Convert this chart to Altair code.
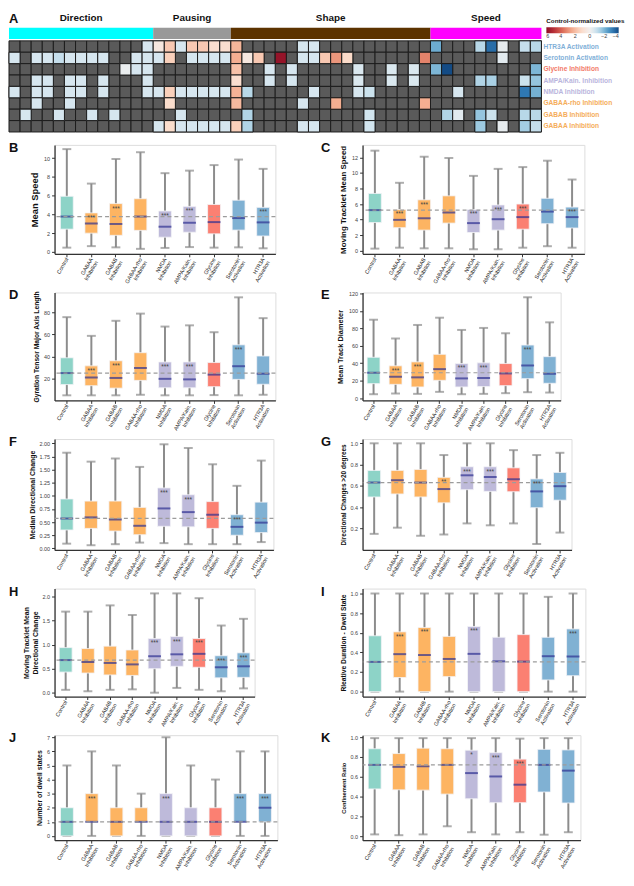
import altair as alt
import pandas as pd

FONT = "Liberation Sans"

# ---------------- Panel A : heatmap ----------------
GROUPS = ["Direction", "Pausing", "Shape", "Speed"]
GROUP_START = [0, 13, 20, 38]
GROUP_END = [13, 20, 38, 48]
GROUP_COLORS = ["#00ffff", "#999999", "#5c3300", "#ff00ff"]

ROW_LABELS = ["HTR3A Activation", "Serotonin Activation", "Glycine Inhibition",
              "AMPA/Kain. Inhibition", "NMDA Inhibition", "GABAA-rho Inhibition",
              "GABAB Inhibition", "GABAA Inhibition"]
ROW_COLORS = ["#7fb0d8", "#7fb0d8", "#f27a6a", "#b9b5dd", "#b9b5dd",
              "#f5ad5a", "#f5ad5a", "#f5ad5a"]

N = None
R_HTR3A = [N, N, N, N, N, N, N, N, N, N, N, N, -0.7, 0.5, 1.7, -0.7, 1.7, 1.7, 1.0, 1.0,
           2.2, N, N, N, N, N, -0.7, -0.7, N, N, N, N, N, N, N, N, N, N, -2.2, N,
           N, N, -1.2, -3.4, -0.3, N, -1.0, -1.2]
R_SERO = [-0.7, N, -0.7, -0.7, -1.0, -0.7, -0.7, -0.7, -0.7, N, N, -0.7, -0.7, -0.7, 1.5, N,
          -0.7, -0.7, -0.7, -0.7, 2.4, 0.5, 1.7, N, 5.8, N, -0.7, -0.7, 1.7, 2.9, 1.2, N,
          N, N, N, N, N, 3.3, N, N, N, N, N, N, -0.4, N, N, N]
R_GLY = [N, N, N, N, N, N, N, N, N, N, -0.2, -0.7, -0.7, N, N, N, N, N, N, N,
         1.9, N, N, -0.7, N, -0.7, N, N, N, N, N, -0.6, N, N, -0.6, N, -0.6, N, -2.0, -4.0,
         N, N, N, N, N, N, N, -2.0]
R_AMPA = [N, N, -0.7, -0.7, N, -0.7, -0.7, N, -0.7, N, N, N, -0.7, N, N, N, N, N, N, N,
          1.0, N, N, -0.7, N, -0.7, N, N, N, N, N, -0.6, N, N, -0.6, N, -0.6, N, N, N,
          N, N, -1.3, -1.4, N, N, -0.9, -1.7]
R_NMDA = [-0.7, N, -0.7, -0.7, N, -0.7, -0.7, N, -0.7, N, N, N, -0.7, -0.7, 1.5, -0.7,
          -0.7, -0.7, -0.7, -0.7, 2.3, -1.2, N, N, N, N, N, -0.7, N, N, N, -0.7, -0.9, N,
          N, N, N, N, N, N, -0.7, N, N, N, N, N, -3.2, -2.1]
R_RHO = [N, N, -0.7, N, N, -0.7, N, N, N, N, N, N, N, N, 1.1, N, N, N, N, N,
         2.1, N, N, N, N, N, -0.7, N, N, 2.4, N, N, N, N, N, N, N, 2.4, N, N,
         N, N, N, N, N, N, N, N]
R_GABAB = [N, -0.7, N, N, -0.7, N, N, -0.7, N, -0.7, N, N, N, N, N, -0.7, N, N, N, N,
           N, -1.3, N, N, N, N, N, N, N, N, N, N, -0.8, N, N, N, N, N, N, -1.3,
           -0.4, N, -1.7, -0.9, N, N, -1.2, -1.2]
R_GABAA = [N, N, N, N, N, N, N, N, N, N, N, N, N, -0.7, 1.1, -0.7, -0.7, -0.7, -0.7, -0.7,
           1.5, -1.3, N, N, N, N, -0.7, -0.7, N, N, N, N, -0.8, N, N, N, N, N, N, N,
           N, N, -1.6, N, -0.3, N, -1.5, -1.0]
HEAT_ROWS = [R_HTR3A, R_SERO, R_GLY, R_AMPA, R_NMDA, R_RHO, R_GABAB, R_GABAA]

NCOL = 48
CELL_W = 11.2
CELL_H = 11.5
Y_TOP = 10.43
X_OFF = 46 / CELL_W   # heatmap starts at the same x as the panel letters below

cells = []
for r, vals in enumerate(HEAT_ROWS):
    for c, v in enumerate(vals):
        cells.append({"c": c, "c2": c + 1, "r": 7 - r, "r2": 8 - r,
                      "v": v, "nv": (-v if v is not None else None)})
cells_df = pd.DataFrame(cells)

xs = alt.Scale(domain=[X_OFF, NCOL], nice=False, zero=False)
ys = alt.Scale(domain=[0, Y_TOP], nice=False, zero=False)

hm_bg = alt.Chart(cells_df).mark_rect(fill="#5a5a5a", stroke="#1c1c1c", strokeWidth=1).encode(
    x=alt.X("c:Q", scale=xs, axis=None), x2="c2:Q",
    y=alt.Y("r:Q", scale=ys, axis=None), y2="r2:Q")

hm_fg = alt.Chart(cells_df).transform_filter("datum.v != null").mark_rect(
    stroke="#1c1c1c", strokeWidth=1).encode(
    x=alt.X("c:Q", scale=xs, axis=None), x2="c2:Q",
    y=alt.Y("r:Q", scale=ys, axis=None), y2="r2:Q",
    color=alt.Color("nv:Q",
                    scale=alt.Scale(domain=[-6, 4], domainMid=0, scheme="redblue"),
                    legend=alt.Legend(
                        title="Control-normalized values", orient="none",
                        legendX=(NCOL - X_OFF) * CELL_W + 5, legendY=5,
                        direction="horizontal",
                        gradientLength=73, gradientThickness=6,
                        titleFontSize=6.3, titleFontWeight="bold", titleColor="#111",
                        titlePadding=3, labelFontSize=5.5, labelColor="#444",
                        labelOffset=1, values=[-6, -4, -2, 0, 2, 4],
                        labelOverlap=False,
                        labelExpr="datum.value == 0 ? '0' : (datum.value < 0 ? format(-datum.value, 'd') : '\u2212' + format(datum.value, 'd'))")))

grp_layers = []
for g, s, e, col in zip(GROUPS, GROUP_START, GROUP_END, GROUP_COLORS):
    gdf = pd.DataFrame({"g": [g], "s": [s], "e": [e], "m": [(s + e) / 2]})
    grp_layers.append(alt.Chart(gdf).mark_rect(color=col).encode(
        x=alt.X("s:Q", scale=xs, axis=None), x2="e:Q",
        y=alt.Y("b1:Q", scale=ys, axis=None), y2="b2:Q").transform_calculate(
        b1="8.17", b2="9.15"))
    grp_layers.append(alt.Chart(gdf).mark_text(
        fontSize=10, fontWeight="bold", color="#111", baseline="middle").encode(
        x=alt.X("m:Q", scale=xs, axis=None),
        y=alt.Y("ty:Q", scale=ys, axis=None), text="g:N").transform_calculate(ty="10.0"))

lab_layers = []
for r, (lab, colr) in enumerate(zip(ROW_LABELS, ROW_COLORS)):
    ldf = pd.DataFrame({"t": [lab], "yc": [7.5 - r], "xc": [NCOL]})
    lab_layers.append(alt.Chart(ldf).mark_text(
        align="left", baseline="middle", dx=2, fontSize=6.7, fontWeight="bold",
        color=colr).encode(
        x=alt.X("xc:Q", scale=xs, axis=None), y=alt.Y("yc:Q", scale=ys, axis=None),
        text="t:N"))

letter_a = alt.Chart(pd.DataFrame({"t": ["A"], "xa": [0], "ya": [Y_TOP]})).mark_text(
    align="left", baseline="top", fontSize=13, fontWeight="bold", color="#111").encode(
    x=alt.X("xa:Q", scale=xs, axis=None), y=alt.Y("ya:Q", scale=ys, axis=None), text="t:N")

heat = alt.layer(hm_bg, hm_fg, *grp_layers, *lab_layers, letter_a).properties(
    width=(NCOL - X_OFF) * CELL_W, height=Y_TOP * CELL_H,
    view=alt.ViewBackground(stroke="transparent", strokeWidth=0))

# ---------------- Box panels ----------------
CATS = ["Control", "GABAA|Inhibition", "GABAB|Inhibition", "GABAA-rho|Inhibition",
        "NMDA|Inhibition", "AMPA/Kain.|Inhibition", "Glycine|Inhibition",
        "Serotonin|Activation", "HTR3A|Activation"]
BOX_COLORS = ["#8dd3c7", "#fdb462", "#fdb462", "#fdb462", "#bebada", "#bebada",
              "#fb8072", "#80b1d3", "#80b1d3"]

B_lo = [0.46, 0.62, 0.49, 0.33, 0.43, 0.52, 0.46, 0.49, 0.39]
B_q1 = [2.43, 2.00, 1.77, 2.30, 1.57, 2.10, 1.93, 2.33, 1.70]
B_med = [3.77, 3.02, 2.98, 3.77, 2.69, 3.11, 3.18, 3.61, 3.15]
B_q3 = [5.93, 4.16, 5.15, 5.67, 4.36, 4.85, 5.05, 5.51, 4.75]
B_hi = [10.95, 7.28, 9.90, 10.62, 8.39, 8.66, 9.25, 9.84, 8.85]
B_sig = ["", "***", "***", "", "***", "***", "", "", "***"]

C_lo = [0.27, 0.39, 0.31, 0.31, 0.19, 0.19, 0.39, 0.58, 0.39]
C_q1 = [3.62, 2.96, 2.65, 3.55, 2.34, 2.65, 2.77, 3.47, 2.92]
C_med = [5.22, 3.97, 4.17, 4.91, 3.55, 4.05, 4.32, 5.03, 4.32]
C_q3 = [7.36, 5.30, 6.54, 7.05, 5.30, 5.88, 6.00, 6.74, 5.61]
C_hi = [12.86, 8.73, 12.08, 11.92, 9.62, 10.52, 10.75, 11.57, 9.15]
C_sig = ["", "***", "***", "", "***", "***", "***", "", "***"]

D_lo = [5.1, 5.1, 5.1, 5.6, 5.1, 5.1, 5.3, 5.1, 5.6]
D_q1 = [14.8, 13.8, 11.6, 18.6, 11.9, 11.9, 12.9, 19.5, 15.1]
D_med = [25.2, 21.1, 20.8, 29.8, 20.0, 19.5, 23.8, 31.4, 24.6]
D_q3 = [39.0, 31.7, 36.3, 43.6, 35.2, 35.2, 34.7, 50.7, 40.6]
D_hi = [75.7, 58.8, 72.4, 78.9, 67.2, 68.3, 62.1, 93.6, 74.8]
D_sig = ["", "***", "***", "", "***", "***", "", "***", ""]

E_lo = [4.5, 5.3, 4.9, 7.2, 4.5, 4.9, 5.7, 6.8, 6.4]
E_q1 = [16.6, 15.8, 12.8, 20.4, 12.8, 13.2, 14.3, 22.3, 17.0]
E_med = [29.1, 24.5, 23.8, 33.2, 22.6, 23.0, 28.3, 37.4, 27.9]
E_q3 = [46.8, 37.0, 41.5, 50.2, 39.6, 40.4, 39.6, 60.8, 47.5]
E_hi = [89.8, 68.3, 83.8, 92.1, 78.1, 80.4, 74.3, 115.5, 86.8]
E_sig = ["", "***", "***", "", "***", "***", "", "***", ""]

F_lo = [0.09, 0.06, 0.08, 0.11, 0.10, 0.08, 0.08, 0.08, 0.12]
F_q1 = [0.35, 0.38, 0.33, 0.26, 0.42, 0.41, 0.38, 0.25, 0.30]
F_med = [0.57, 0.59, 0.55, 0.43, 0.76, 0.69, 0.64, 0.41, 0.49]
F_q3 = [0.94, 0.90, 0.90, 0.78, 1.15, 1.02, 0.89, 0.64, 0.88]
F_hi = [1.82, 1.65, 1.71, 1.55, 1.98, 1.91, 1.60, 1.19, 1.67]
F_sig = ["", "", "", "", "***", "***", "", "***", ""]

G_lo = [0.151, 0.209, 0.133, 0.145, 0.249, 0.231, 0.249, 0.056, 0.163]
G_q1 = [0.497, 0.525, 0.497, 0.442, 0.565, 0.549, 0.546, 0.396, 0.467]
G_med = [0.632, 0.654, 0.632, 0.571, 0.700, 0.684, 0.663, 0.549, 0.598]
G_q3 = [0.746, 0.746, 0.755, 0.681, 0.780, 0.780, 0.770, 0.666, 0.727]
G_hi = [1.0, 1.0, 1.0, 0.89, 1.0, 1.0, 0.936, 0.89, 0.911]
G_sig = ["", "", "", "**", "***", "***", "", "***", ""]

H_lo = [0.06, 0.03, 0.06, 0.07, 0.00, 0.10, 0.06, 0.03, 0.09]
H_q1 = [0.43, 0.41, 0.37, 0.36, 0.50, 0.55, 0.53, 0.31, 0.32]
H_med = [0.68, 0.64, 0.62, 0.59, 0.76, 0.80, 0.81, 0.53, 0.55]
H_q3 = [0.94, 0.92, 0.97, 0.89, 1.13, 1.17, 1.13, 0.77, 0.83]
H_hi = [1.69, 1.69, 1.82, 1.62, 2.07, 2.07, 1.97, 1.40, 1.54]
H_sig = ["", "", "", "", "***", "***", "***", "***", "***"]

I_lo = [0.0, 0.0, 0.0, 0.0, 0.0, 0.0, 0.0, 0.0, 0.0]
I_q1 = [0.0, 0.144, 0.0, 0.153, 0.0, 0.0, 0.0, 0.119, 0.162]
I_med = [0.303, 0.382, 0.373, 0.333, 0.385, 0.309, 0.306, 0.361, 0.358]
I_q3 = [0.569, 0.609, 0.654, 0.563, 0.664, 0.554, 0.581, 0.554, 0.639]
I_hi = [1.0, 1.0, 1.0, 1.0, 1.0, 1.0, 1.0, 0.966, 1.0]
I_sig = ["", "***", "***", "", "***", "", "", "", "***"]

J_lo = [0, 0, 0, 0, 0, 0, 0, 0, 0]
J_q1 = [0, 1, 0, 1, 0, 0, 0, 1, 1]
J_med = [1, 1, 1, 1, 1, 1, 1, 1, 2]
J_q3 = [2, 3, 2, 2, 3, 2, 2, 3, 3]
J_hi = [5, 6, 5, 3, 7, 5, 4, 6, 6]
J_sig = ["", "***", "", "", "***", "", "", "***", "***"]

K_lo = [0.018, 0.010, 0.018, 0.100, 0.040, 0.018, 0.040, 0.015, 0.040]
K_q1 = [0.477, 0.468, 0.465, 0.425, 0.378, 0.338, 0.338, 0.446, 0.335]
K_med = [0.720, 0.700, 0.705, 0.720, 0.637, 0.603, 0.520, 0.720, 0.662]
K_q3 = [0.883, 0.834, 0.889, 0.883, 0.868, 0.843, 0.778, 0.877, 0.871]
K_hi = [0.99, 0.99, 0.99, 0.99, 0.99, 0.99, 0.985, 0.99, 0.99]
K_sig = ["", "", "", "", "*", "***", "***", "", ""]

GRAY = "#8c8c8c"
MED_COLOR = "#2e3192"


def box_panel(letter, title, tsize, lo, q1, med, q3, hi, sig, domain, ticks, fmt,
              w, h, letter_x):
    df = pd.DataFrame({"cat": CATS, "lo": lo, "q1": q1, "med": med, "q3": q3,
                       "hi": hi, "sig": sig, "ctrl": [med[0]] * len(CATS)})
    yscale = alt.Scale(domain=domain, nice=False, zero=False)
    yaxis = alt.Axis(title=title, values=ticks, format=fmt, titleFontSize=tsize,
                     titleFontWeight="bold", titleColor="#111", titlePadding=4,
                     labelFontSize=5.5, labelColor="#444", tickSize=3, labelPadding=2,
                     domainColor="#333", tickColor="#333", domainWidth=1.3, grid=False)

    def Y(f):
        return alt.Y(f"{f}:Q", scale=yscale, axis=yaxis)

    X = alt.X("cat:N", sort=CATS, scale=alt.Scale(paddingInner=0, paddingOuter=0),
              axis=alt.Axis(title=None, labelAngle=-60, labelAlign="right",
                            labelBaseline="middle", labelFontSize=5.5, labelColor="#222",
                            labelExpr="split(datum.label, '|')", labelLineHeight=6,
                            tickSize=3, labelPadding=1, domainColor="#333",
                            tickColor="#333", domainWidth=1.3, grid=False))
    base = alt.Chart(df).encode(x=X)
    whisk = base.mark_rule(color=GRAY, strokeWidth=2).encode(y=Y("lo"), y2="hi:Q")
    cap_lo = base.mark_tick(color=GRAY, size=9, thickness=2).encode(y=Y("lo"))
    cap_hi = base.mark_tick(color=GRAY, size=9, thickness=2).encode(y=Y("hi"))
    box = base.mark_bar(size=13, stroke="#f4f4f8", strokeWidth=0.8).encode(
        y=Y("q1"), y2="q3:Q",
        color=alt.Color("cat:N", scale=alt.Scale(domain=CATS, range=BOX_COLORS),
                        legend=None))
    medl = base.mark_tick(color=MED_COLOR, size=13, thickness=2).encode(y=Y("med"))
    refl = alt.Chart(df).transform_filter("datum.cat == 'Control'").mark_rule(
        color="#9c9c9c", strokeDash=[4, 3], strokeWidth=1.2).encode(y=Y("ctrl"))
    stars = base.mark_text(baseline="top", dy=2, fontSize=6.5, color="#444").encode(
        y=Y("q3"), text="sig:N")
    let = alt.Chart(pd.DataFrame({"t": [letter]})).mark_text(
        align="left", baseline="top", fontSize=13, fontWeight="bold", color="#111").encode(
        x=alt.value(letter_x), y=alt.value(-3), text="t:N")
    return alt.layer(whisk, cap_lo, cap_hi, box, medl, refl, stars, let).properties(
        width=w, height=h)


LX = -46
RX = -42
pB = box_panel("B", "Mean Speed", 9.5, B_lo, B_q1, B_med, B_q3, B_hi, B_sig,
               [-0.2, 11.4], [0, 2, 4, 6, 8, 10], "d", 223, 110, LX)
pC = box_panel("C", "Moving Tracklet Mean Speed", 8, C_lo, C_q1, C_med, C_q3, C_hi, C_sig,
               [-0.4, 13.6], [0, 2, 4, 6, 8, 10, 12], "d", 224, 110, RX)
pD = box_panel("D", "Gyration Tensor Major Axis Length", 6.8, D_lo, D_q1, D_med, D_q3, D_hi,
               D_sig, [0.5, 98], [20, 40, 60, 80], "d", 223, 109, LX)
pE = box_panel("E", "Mean Track Diameter", 7.5, E_lo, E_q1, E_med, E_q3, E_hi, E_sig,
               [-2.6, 121], [0, 20, 40, 60, 80, 100, 120], "d", 200, 109, RX)
pF = box_panel("F", "Median Directional Change", 7, F_lo, F_q1, F_med, F_q3, F_hi, F_sig,
               [-0.03, 2.08], [0, 0.25, 0.5, 0.75, 1.0, 1.25, 1.5, 1.75, 2.0], ".2f",
               221, 112, LX)
pG = box_panel("G", "Directional Changes >20 degrees", 6.5, G_lo, G_q1, G_med, G_q3, G_hi,
               G_sig, [0.0, 1.04], [0.2, 0.4, 0.6, 0.8, 1.0], ".1f", 211, 112, RX)
pH = box_panel("H", ["Moving Tracklet Mean", "Directional Change"], 7, H_lo, H_q1, H_med,
               H_q3, H_hi, H_sig, [-0.08, 2.17], [0, 0.5, 1.0, 1.5, 2.0], ".1f",
               202, 109, LX)
pI = box_panel("I", "Rleative Duration - Dwell State", 6.8, I_lo, I_q1, I_med, I_q3, I_hi,
               I_sig, [-0.05, 1.05], [0, 0.2, 0.4, 0.6, 0.8, 1.0], ".1f", 225, 109, RX)
pJ = box_panel("J", "Number of dwell states", 7, J_lo, J_q1, J_med, J_q3, J_hi, J_sig,
               [-0.3, 7.15], [0, 1, 2, 3, 4, 5, 6, 7], "d", 225, 106, LX)
pK = box_panel("K", "Confinement Ratio", 5.8, K_lo, K_q1, K_med, K_q3, K_hi, K_sig,
               [-0.04, 1.02], [0, 0.2, 0.4, 0.6, 0.8, 1.0], ".1f", 220, 106, RX)

row1 = alt.hconcat(pB, pC, spacing=43)
row2 = alt.hconcat(pD, pE, spacing=43)
row3 = alt.hconcat(pF, pG, spacing=45)
row4 = alt.hconcat(pH, pI, spacing=64)
row5 = alt.hconcat(pJ, pK, spacing=41)

grid = alt.vconcat(row1, row2, row3, row4, row5, spacing=0)

chart = alt.vconcat(heat, grid, spacing=8).properties(padding=0).configure_view(
    strokeWidth=0, stroke="transparent").configure(font=FONT)

chart.save("out.html", embed_options={"renderer": "svg", "actions": False})
